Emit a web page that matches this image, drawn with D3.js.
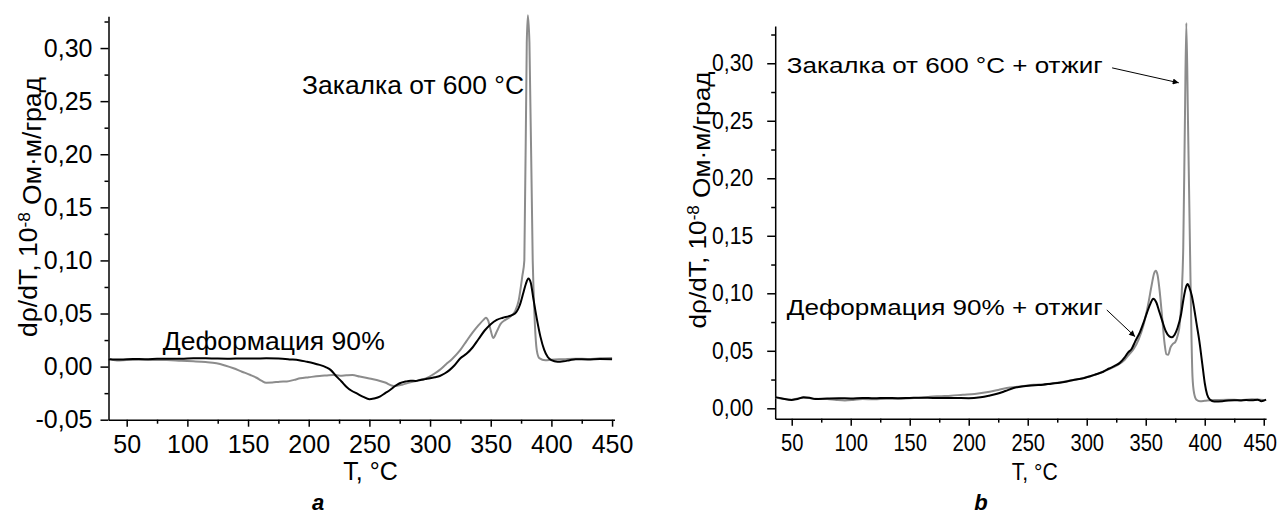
<!DOCTYPE html>
<html><head><meta charset="utf-8">
<script src="https://cdn.jsdelivr.net/npm/d3@7"></script>
<style>
html,body{margin:0;padding:0;background:#fff;}
svg{display:block;}
text{font-family:"Liberation Sans",Arial,sans-serif;fill:#000;}
</style></head>
<body>
<svg id="c" width="1285" height="515"></svg>
<script>
// ---------- data ----------
const xTicks = [50,100,150,200,250,300,350,400,450];
const xMinor = [75,125,175,225,275,325,375,425];
const yTicksA = [-0.05,0,0.05,0.10,0.15,0.20,0.25,0.30];
const yMinorA = [-0.025,0.025,0.075,0.125,0.175,0.225,0.275,0.325];
const yTicksB = [0,0.05,0.10,0.15,0.20,0.25,0.30];
const yMinorB = [0.025,0.075,0.125,0.175,0.225,0.275,0.325];

// panel a: deformation 90% (black)
const aDeform = [[35,0.0069],[45,0.0066],[55,0.0072],[65,0.0070],[75,0.0073],[85,0.0075],[95,0.0074],[105,0.0079],[115,0.0078],[125,0.0076],[135,0.0075],[145,0.0077],[155,0.0076],[165,0.0079],[175,0.0077],[185,0.0068],[192,0.0060],[198,0.0047],[204,0.0032],[209,0.0016],[214,-0.0005],[218,-0.0031],[223,-0.0094],[227,-0.0140],[231,-0.0189],[235,-0.0225],[240,-0.0255],[245,-0.0285],[250,-0.0308],[254,-0.0300],[259,-0.0280],[263,-0.0250],[267,-0.0220],[271,-0.0185],[275,-0.0157],[280,-0.0140],[284,-0.0133],[288,-0.0135],[292,-0.0126],[296,-0.0118],[300,-0.0110],[304,-0.0100],[308,-0.0088],[312,-0.0065],[316,-0.0033],[320,0.0010],[325,0.0079],[330,0.0120],[335,0.0180],[340,0.0260],[345,0.0340],[350,0.0400],[355,0.0440],[360,0.0460],[365,0.0475],[370,0.0500],[374,0.0580],[377,0.0700],[379,0.0780],[381,0.0830],[383,0.0790],[385,0.0650],[388,0.0450],[391,0.0280],[394,0.0160],[397,0.0090],[400,0.0060],[405,0.0045],[410,0.0050],[415,0.0060],[420,0.0070],[430,0.0068],[440,0.0072],[450,0.0070]];
// panel a: quench from 600 °C (grey)
const aQuench = [[35,0.0075],[42,0.0057],[50,0.0062],[60,0.0065],[70,0.0062],[83,0.0063],[95,0.0055],[105,0.0050],[115,0.0043],[124,0.0031],[131,0.0010],[138,-0.0016],[145,-0.0048],[152,-0.0079],[157,-0.0105],[161,-0.0132],[165,-0.0151],[170,-0.0150],[176,-0.0142],[182,-0.0140],[188,-0.0125],[193,-0.0110],[200,-0.0100],[209,-0.0088],[215,-0.0083],[220,-0.0079],[226,-0.0085],[231,-0.0082],[236,-0.0080],[242,-0.0094],[249,-0.0110],[256,-0.0126],[263,-0.0150],[270,-0.0182],[277,-0.0170],[283,-0.0151],[290,-0.0130],[297,-0.0110],[303,-0.0070],[308,-0.0031],[313,0.0020],[318,0.0070],[325,0.0157],[330,0.0240],[335,0.0320],[340,0.0390],[344,0.0440],[346,0.0460],[348,0.0430],[350,0.0340],[352,0.0270],[355,0.0330],[358,0.0400],[362,0.0440],[366,0.0470],[370,0.0520],[373,0.0620],[376,0.0850],[377.7,0.1000],[379.7,0.3050],[380.6,0.3310],[381.9,0.3050],[384.6,0.1000],[386,0.0500],[388,0.0150],[390,0.0080],[395,0.0060],[400,0.0065],[410,0.0070],[420,0.0075],[430,0.0072],[440,0.0078],[450,0.0080]];
// panel b: deformation 90% + anneal (black)
const bDeform = [[36,0.0097],[42,0.0085],[50,0.0073],[55,0.0080],[60,0.0097],[65,0.0092],[70,0.0080],[80,0.0085],[90,0.0088],[100,0.0086],[110,0.0090],[120,0.0087],[130,0.0090],[140,0.0088],[150,0.0090],[160,0.0092],[170,0.0090],[180,0.0090],[190,0.0089],[200,0.0088],[210,0.0097],[217,0.0110],[224,0.0126],[231,0.0150],[238,0.0176],[245,0.0190],[256,0.0200],[263,0.0205],[270,0.0214],[277,0.0222],[284,0.0235],[291,0.0250],[298,0.0264],[303,0.0278],[308,0.0296],[314,0.0318],[319,0.0346],[324,0.0370],[328,0.0395],[332,0.0440],[335,0.0485],[338,0.0515],[341,0.0580],[345,0.0660],[348,0.0740],[351,0.0830],[354,0.0910],[356.3,0.0953],[359,0.0920],[361.5,0.0840],[364,0.0760],[367,0.0670],[370,0.0625],[372,0.0618],[374.5,0.0640],[377,0.0700],[380,0.0820],[382,0.0950],[384,0.1050],[385.5,0.1080],[387,0.1050],[389,0.0980],[391,0.0870],[393,0.0740],[395.5,0.0580],[398,0.0380],[400,0.0220],[402,0.0120],[404.5,0.0075],[408,0.0060],[415,0.0062],[420,0.0068],[425,0.0070],[430,0.0068],[435,0.0072],[440,0.0070],[445,0.0075],[448,0.0062],[452,0.0075]];
// panel b: quench from 600 °C + anneal (grey)
const bQuench = [[36,0.0095],[42,0.0082],[50,0.0075],[55,0.0085],[60,0.0092],[65,0.0090],[70,0.0082],[80,0.0080],[88,0.0072],[95,0.0068],[102,0.0072],[110,0.0080],[120,0.0078],[130,0.0083],[140,0.0082],[150,0.0088],[160,0.0092],[167,0.0100],[175,0.0105],[185,0.0110],[195,0.0118],[205,0.0125],[215,0.0140],[225,0.0160],[235,0.0180],[245,0.0192],[255,0.0205],[265,0.0210],[275,0.0222],[285,0.0240],[295,0.0258],[305,0.0285],[313,0.0315],[320,0.0345],[326,0.0375],[332,0.0420],[336,0.0470],[340,0.0520],[344,0.0600],[348,0.0720],[352,0.0900],[355,0.1070],[357,0.1170],[358.5,0.1195],[360,0.1160],[362,0.1000],[364,0.0780],[366,0.0560],[367.5,0.0470],[369,0.0465],[371,0.0530],[373,0.0560],[375,0.0575],[377,0.0630],[379,0.0750],[380.5,0.1000],[381.8,0.1400],[383.2,0.2500],[384.4,0.3350],[385.8,0.2500],[387.5,0.1400],[388.8,0.0600],[389.6,0.0280],[391,0.0130],[393,0.0075],[396,0.0062],[400,0.0065],[405,0.0070],[410,0.0072],[420,0.0075],[430,0.0072],[440,0.0078],[450,0.0072]];

// annotation anchors (data units)
const aLabels = [{t:"Закалка от 600 °C", T:194.5, v:0.257, w:222},{t:"Деформация 90%", T:79.7, v:0.0158, w:222}];
const bLabels = [{t:"Закалка от 600 °C + отжиг", T:45.8, v:0.2916, w:316},{t:"Деформация 90% + отжиг", T:45.8, v:0.0811, w:316}];
const bArrows = [{from:[321.5,0.296], to:[378,0.283]},{from:[317,0.0855], to:[341,0.0623]}];

// ---------- drawing ----------
const svg = d3.select("#c");
const fmt = d => d3.format(".2f")(d).replace(".", ",").replace("−","-");
const GREY = "#8c8c8c";

svg.append("defs").append("marker").attr("id","arr").attr("viewBox","0 0 10 10")
  .attr("refX",10).attr("refY",5).attr("markerWidth",9).attr("markerHeight",6)
  .attr("markerUnits","userSpaceOnUse").attr("orient","auto")
  .append("path").attr("d","M0,0L10,5L0,10z").attr("fill","#000");

function squeeze(sel, k){
  if (k === 1) return;
  sel.each(function(){
    const w = this.getComputedTextLength();
    d3.select(this).attr("textLength", w*k).attr("lengthAdjust","spacingAndGlyphs");
  });
}

function panel(cfg){
  const g = svg.append("g");
  const x = d3.scaleLinear().domain(cfg.xd).range(cfg.xr);
  const y = d3.scaleLinear().domain(cfg.yd).range(cfg.yr);
  const y0 = cfg.yr[0], x0 = cfg.xr[0];
  g.append("g").attr("transform",`translate(0,${y0})`)
    .call(d3.axisBottom(x).tickValues(xMinor).tickSize(4).tickSizeOuter(0).tickFormat(""))
    .call(s=>s.select(".domain").remove());
  const ax = g.append("g").attr("transform",`translate(0,${y0})`)
    .call(d3.axisBottom(x).tickValues(xTicks).tickSize(7).tickSizeOuter(0).tickPadding(cfg.xpad).tickFormat(d3.format("d")));
  ax.selectAll("text").attr("font-size",cfg.fs).attr("font-family","Liberation Sans");
  g.append("g").attr("transform",`translate(${x0},0)`)
    .call(d3.axisLeft(y).tickValues(cfg.yMinor).tickSize(4).tickSizeOuter(0).tickFormat(""))
    .call(s=>s.select(".domain").remove());
  const ay = g.append("g").attr("transform",`translate(${x0},0)`)
    .call(d3.axisLeft(y).tickValues(cfg.yTicks).tickSize(8).tickSizeOuter(0).tickPadding(cfg.ypad).tickFormat(fmt));
  ay.selectAll("text").attr("font-size",cfg.fs).attr("font-family","Liberation Sans");
  squeeze(ax.selectAll("text"), cfg.sxx);
  squeeze(ay.selectAll("text"), cfg.sx);
  if (cfg.lastDx) ax.selectAll("text").filter(d=>d===450).attr("dx",cfg.lastDx);
  g.selectAll(".domain, .tick line").attr("stroke","#000").attr("stroke-width",1.5);

  const line = d3.line().x(d=>x(d[0])).y(d=>y(d[1])).curve(d3.curveMonotoneX);
  g.append("path").datum(cfg.grey).attr("d",line).attr("fill","none").attr("stroke",GREY).attr("stroke-width",2).attr("stroke-linejoin","round");
  g.append("path").datum(cfg.black).attr("d",line).attr("fill","none").attr("stroke","#000").attr("stroke-width",2).attr("stroke-linejoin","round");

  cfg.labels.forEach(l=>{
    g.append("text").attr("x",x(l.T)).attr("y",y(l.v)).attr("font-size",cfg.afs)
      .attr("textLength",l.w).attr("lengthAdjust","spacingAndGlyphs").text(l.t);
  });
  (cfg.arrows||[]).forEach(a=>{
    g.append("line").attr("x1",x(a.from[0])).attr("y1",y(a.from[1]))
      .attr("x2",x(a.to[0])).attr("y2",y(a.to[1])).attr("stroke","#000").attr("stroke-width",1)
      .attr("marker-end","url(#arr)");
  });
  const xt = g.append("text").attr("x",x(cfg.xlabT)).attr("y",480).attr("text-anchor","middle")
    .attr("font-size",cfg.fs).text("T, °C");
  squeeze(xt, cfg.sx);
  const yl = g.append("text").attr("transform",`translate(${cfg.ylab[0]},${cfg.ylab[1]}) rotate(-90)`)
    .attr("text-anchor","middle").attr("font-size",cfg.fs).attr("textLength",cfg.ylab[2]).attr("lengthAdjust","spacingAndGlyphs");
  yl.append("tspan").text("dρ/dT, 10");
  yl.append("tspan").attr("dy","-0.45em").attr("font-size",cfg.fs*0.65).text("-8");
  yl.append("tspan").attr("dy","0.45em").text(" Ом·м/град");
  g.append("text").attr("x",cfg.letter[0]).attr("y",510).attr("text-anchor","middle")
    .attr("font-family","Liberation Serif").attr("font-style","italic").attr("font-weight","bold")
    .attr("font-size",22).text(cfg.letter[1]);
}

panel({xd:[35,452], xr:[108.5,614.5], yd:[-0.05,0.33], yr:[419.7,16.2],
  yTicks:yTicksA, yMinor:yMinorA, fs:25, afs:25, sx:1, sxx:1, xpad:9, ypad:8,
  grey:aQuench, black:aDeform, labels:aLabels, arrows:[],
  xlabT:251, ylab:[37,207,260], letter:[318,"a"]});
panel({xd:[36,452], xr:[775.2,1266.1], yd:[-0.009,0.3324], yr:[418.65,26.0],
  yTicks:yTicksB, yMinor:yMinorB, fs:24, afs:22, sx:0.88, sxx:0.84, xpad:8, ypad:14, lastDx:-4,
  grey:bQuench, black:bDeform, labels:bLabels, arrows:bArrows,
  xlabT:256, ylab:[706,200,257], letter:[981,"b"]});
</script>
</body></html>
